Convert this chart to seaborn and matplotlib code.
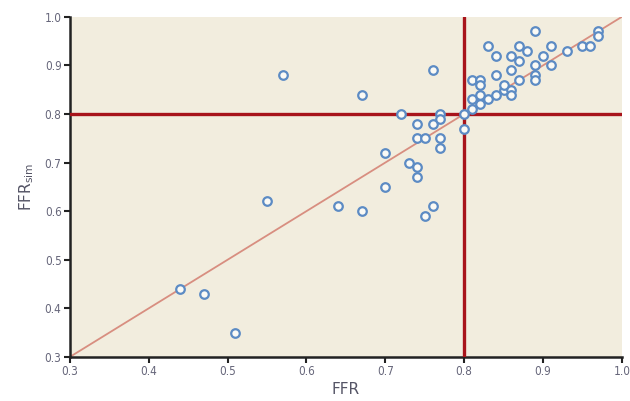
import matplotlib
matplotlib.use("Agg")
import matplotlib.pyplot as plt
from matplotlib import font_manager
import seaborn as sns
import pandas as pd

# Measured fractional flow reserve vs. simulated FFR
ffr = [0.44, 0.47, 0.51, 0.55, 0.57, 0.64, 0.67, 0.67, 0.70, 0.70,
       0.72, 0.73, 0.74, 0.74, 0.74, 0.74, 0.75, 0.76, 0.76, 0.76,
       0.75, 0.77, 0.77, 0.77, 0.77, 0.80, 0.80,
       0.81, 0.82, 0.81, 0.82, 0.83, 0.84, 0.85, 0.85, 0.86, 0.86,
       0.81, 0.82, 0.82, 0.84, 0.86, 0.87, 0.83, 0.84, 0.86, 0.87,
       0.87, 0.88, 0.89, 0.89, 0.89, 0.89, 0.90, 0.91, 0.91, 0.93,
       0.95, 0.96, 0.97, 0.97]
ffr_sim = [0.44, 0.43, 0.35, 0.62, 0.88, 0.61, 0.60, 0.84, 0.72, 0.65,
           0.80, 0.70, 0.69, 0.67, 0.78, 0.75, 0.75, 0.89, 0.78, 0.61,
           0.59, 0.80, 0.79, 0.75, 0.73, 0.80, 0.77,
           0.81, 0.82, 0.83, 0.84, 0.83, 0.84, 0.85, 0.86, 0.85, 0.84,
           0.87, 0.87, 0.86, 0.88, 0.89, 0.87, 0.94, 0.92, 0.92, 0.94,
           0.91, 0.93, 0.97, 0.90, 0.88, 0.87, 0.92, 0.94, 0.90, 0.93,
           0.94, 0.94, 0.97, 0.96]

cutoff = 0.80
axis_ticks = [0.3, 0.4, 0.5, 0.6, 0.7, 0.8, 0.9, 1.0]
tick_labels = ["0.3", "0.4", "0.5", "0.6", "0.7", "0.8", "0.9", "1.0"]

df = pd.DataFrame({"FFR": ffr, "FFR_sim": ffr_sim})

sns.set_style("ticks")
plt.rcParams["font.family"] = ["DejaVu Sans"]

# condensed face for the tick numbers when available
installed = {f.name for f in font_manager.fontManager.ttflist}
if "Liberation Sans Narrow" in installed:
    tick_font = dict(family="Liberation Sans Narrow", size=10)
elif "DejaVu Sans Condensed" in installed:
    tick_font = dict(family="DejaVu Sans Condensed", size=9.5)
else:
    tick_font = dict(family="DejaVu Sans", stretch="condensed", size=8.5)

fig = plt.figure(figsize=(6.3, 4.01), dpi=100)
ax = fig.add_axes([0.111, 0.110, 0.876, 0.848])
ax.set_facecolor("#F2EDDE")

# identity line
ax.plot([0.3, 1.0], [0.3, 1.0], color="#D88E80", lw=1.3, zorder=2)

# cut-off lines
ax.axhline(cutoff, color="#A8141B", lw=2.4, zorder=3)
ax.axvline(cutoff, color="#A8141B", lw=2.4, zorder=3)

sns.scatterplot(data=df, x="FFR", y="FFR_sim", ax=ax, s=38,
                facecolor="#FBFAF5", edgecolor="#5C8BC4", linewidth=1.6,
                zorder=4, legend=False)

ax.set_xlim(0.3, 1.0)
ax.set_ylim(0.3, 1.0)
ax.set_xticks(axis_ticks)
ax.set_xticklabels(tick_labels, **tick_font)
ax.set_yticks(axis_ticks)
ax.set_yticklabels(tick_labels, **tick_font)

for side in ("top", "right"):
    ax.spines[side].set_visible(False)
for side in ("left", "bottom"):
    ax.spines[side].set_color("#222222")
    ax.spines[side].set_linewidth(1.8)

ax.tick_params(axis="both", direction="out", length=4, width=1.5,
               color="#222222", labelcolor="#66667A", pad=2)

ax.set_xlabel("FFR", fontsize=11, color="#555566", labelpad=3)
ax.set_ylabel(r"FFR$_{\mathrm{sim}}$", fontsize=11, color="#555566", labelpad=6)

fig.savefig("out.png", dpi=100, facecolor="white")
